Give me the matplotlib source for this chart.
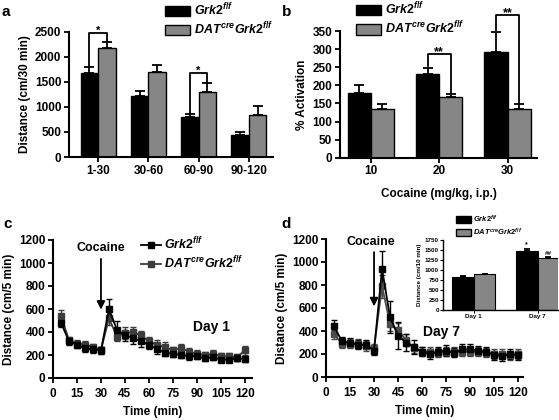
import matplotlib
matplotlib.use("Agg")
import matplotlib.pyplot as plt
import numpy as np
from matplotlib.patches import Patch
from matplotlib.lines import Line2D

plt.rcParams['font.family'] = ['Liberation Sans', 'DejaVu Sans']
plt.rcParams['font.weight'] = 'bold'
plt.rcParams['mathtext.fontset'] = 'custom'
plt.rcParams['mathtext.it'] = 'Liberation Sans:italic:bold'
plt.rcParams['mathtext.rm'] = 'Liberation Sans:bold'
plt.rcParams['mathtext.bf'] = 'Liberation Sans:bold'
plt.rcParams['axes.linewidth'] = 1.5
plt.rcParams['xtick.major.width'] = 1.3
plt.rcParams['ytick.major.width'] = 1.3

GRAY = '#868686'
LBL_WT = r'$\mathit{Grk2}^{\mathit{f/f}}$'
LBL_KO = r'$\mathit{DAT}^{\mathit{cre}}\mathit{Grk2}^{\mathit{f/f}}$'

# panel a
a_bins = ['1-30', '30-60', '60-90', '90-120']
a_wt = [1670, 1220, 790, 430]
a_wt_err = [120, 90, 70, 70]
a_ko = [2170, 1700, 1300, 830]
a_ko_err = [120, 140, 180, 180]

# panel b
b_dose = ['10', '20', '30']
b_wt = [180, 232, 293]
b_wt_err = [20, 16, 55]
b_ko = [135, 168, 135]
b_ko_err = [12, 9, 12]

# panels c, d
t = [5, 10, 15, 20, 25, 30, 35, 40, 45, 50, 55, 60, 65, 70, 75, 80, 85, 90,
     95, 100, 105, 110, 115, 120]
c_wt = [480, 320, 290, 260, 250, 240, 600, 420, 370, 350, 320, 290, 250, 220,
        210, 200, 190, 190, 170, 180, 160, 160, 170, 165]
c_wt_err = [40, 30, 30, 30, 30, 30, 90, 80, 50, 50, 50, 40, 40, 30,
            30, 30, 30, 25, 25, 25, 25, 25, 25, 30]
c_ko = [540, 330, 300, 290, 270, 240, 520, 360, 390, 400, 370, 320, 290, 270,
        240, 260, 230, 210, 200, 210, 190, 190, 180, 240]
c_ko_err = [50, 30, 30, 30, 30, 30, 60, 40, 50, 40, 40, 40, 40, 40,
            30, 40, 30, 30, 30, 30, 30, 30, 30, 40]

d_wt = [440, 310, 300, 280, 280, 230, 940, 520, 360, 300, 260, 220, 200, 220,
        230, 210, 240, 240, 230, 220, 190, 180, 200, 190]
d_wt_err = [60, 40, 40, 40, 40, 40, 160, 140, 120, 70, 60, 40, 40, 40,
            50, 40, 50, 50, 40, 40, 40, 40, 40, 40]
d_ko = [370, 290, 290, 290, 270, 250, 790, 460, 410, 320, 250, 220, 220, 210,
        220, 220, 220, 220, 220, 210, 200, 200, 190, 200]
d_ko_err = [40, 40, 40, 40, 40, 40, 100, 60, 60, 50, 40, 40, 40, 40,
            40, 40, 40, 40, 40, 40, 40, 40, 40, 40]

# inset
in_days = ['Day 1', 'Day 7']
in_wt = [840, 1490]
in_wt_err = [20, 50]
in_ko = [900, 1310]
in_ko_err = [15, 25]

fig = plt.figure(figsize=(5.59, 4.2), dpi=100)
W, H = 559, 420


def px_axes(l, r, top, bot):
    return fig.add_axes([l / W, 1 - bot / H, (r - l) / W, (bot - top) / H])


def style(ax, fs=8):
    for s in ['top', 'right']:
        ax.spines[s].set_visible(False)
    ax.tick_params(direction='out', length=3.5, labelsize=fs, pad=2)
    for lab in ax.get_xticklabels() + ax.get_yticklabels():
        lab.set_fontweight('bold')


def bars(ax, wt, wt_err, ko, ko_err, w, lw=1.0, cap=3.5):
    x = np.arange(len(wt))
    ax.bar(x - w / 2, wt, w, color='black', edgecolor='black', lw=lw,
           yerr=[np.zeros(len(wt)), wt_err],
           error_kw=dict(ecolor='black', capsize=cap, elinewidth=1.3, capthick=1.3))
    ax.bar(x + w / 2, ko, w, color=GRAY, edgecolor='black', lw=lw,
           yerr=[np.zeros(len(ko)), ko_err],
           error_kw=dict(ecolor='black', capsize=cap, elinewidth=1.3, capthick=1.3))
    return x


def bracket(ax, x0, x1, y0, y1, top, txt, fs=9):
    ax.plot([x0, x0, x1, x1], [y0, top, top, y1], color='black', lw=1.3,
            clip_on=False)
    ax.annotate(txt, ((x0 + x1) / 2, top), xytext=(0, -0.5),
                textcoords='offset points', ha='center', va='baseline',
                fontsize=fs, fontweight='bold', annotation_clip=False)


def bar_legend(ax, x0, y0, fs, hl, hh):
    ax.legend([Patch(fc='black', ec='black'), Patch(fc=GRAY, ec='black')],
              [LBL_WT, LBL_KO], loc='lower left', bbox_to_anchor=(x0, y0),
              frameon=False, fontsize=fs, handlelength=hl, handleheight=hh,
              handletextpad=0.3, labelspacing=0.2, borderaxespad=0, borderpad=0)


# ---- a
axa = px_axes(69, 273, 31.7, 157)
w = 0.35
x = bars(axa, a_wt, a_wt_err, a_ko, a_ko_err, w)
axa.set_xlim(-0.58, 3.48)
axa.set_ylim(0, 2500)
axa.set_yticks(range(0, 2501, 500))
axa.set_xticks(x)
axa.set_xticklabels(a_bins)
axa.set_ylabel('Distance (cm/30 min)', fontsize=8.5, fontweight='bold', labelpad=3)
style(axa, 8.5)
bracket(axa, -w / 2, w / 2, 1820, 2310, 2474, '*', 8)
bracket(axa, 2 - w / 2, 2 + w / 2, 870, 1490, 1670, '*', 8)
bar_legend(axa, 0.47, 0.955, 9, 2.0, 0.9)

# ---- b
axb = px_axes(340, 537, 31, 157.7)
w = 0.34
x = bars(axb, b_wt, b_wt_err, b_ko, b_ko_err, w)
axb.set_xlim(-0.45, 2.43)
axb.set_ylim(0, 350)
axb.set_yticks(range(0, 351, 50))
axb.set_xticks(x)
axb.set_xticklabels(b_dose)
axb.set_ylabel('% Activation', fontsize=8.5, fontweight='bold', labelpad=3)
axb.set_xlabel('Cocaine (mg/kg, i.p.)', fontsize=8.5, fontweight='bold', labelpad=8)
style(axb, 8.5)
bracket(axb, 1 - w / 2, 1 + w / 2, 252, 180, 286, '**', 9)
bracket(axb, 2 - w / 2, 2 + w / 2, 352, 150, 394, '**', 9)
bar_legend(axb, 0.08, 0.955, 9, 2.0, 0.9)


# ---- c, d
def timecourse(ax, wt, wt_err, ko, ko_err, ko_col):
    ax.errorbar(t, ko, yerr=ko_err, color=ko_col, marker='s', ms=4.5, lw=1.3,
                capsize=2.5, elinewidth=1.0, capthick=1.0)
    ax.errorbar(t, wt, yerr=wt_err, color='black', marker='s', ms=4.5, lw=1.3,
                capsize=2.5, elinewidth=1.0, capthick=1.0)
    ax.set_ylim(0, 1200)
    ax.set_yticks(range(0, 1201, 200))
    ax.set_xticks(range(0, 121, 15))
    ax.set_xlabel('Time (min)', fontsize=8.5, fontweight='bold', labelpad=4)
    ax.set_ylabel('Distance (cm/5 min)', fontsize=8.5, fontweight='bold', labelpad=3)
    style(ax, 8.5)
    ax.tick_params(axis='x', pad=4)


axc = px_axes(53, 252, 240, 378)
timecourse(axc, c_wt, c_wt_err, c_ko, c_ko_err, '#3c3c3c')
axc.set_xlim(0, 124.5)
axc.annotate('', xy=(30, 570), xytext=(30, 1060),
             arrowprops=dict(arrowstyle='-|>', color='black', lw=1.3,
                             mutation_scale=12))
axc.text(30, 1080, 'Cocaine', ha='center', va='bottom', fontsize=9, fontweight='bold')
axc.text(99, 440, 'Day 1', ha='center', va='center', fontsize=10, fontweight='bold')
axc.legend([Line2D([], [], color='black', marker='s', ms=4, lw=1.3),
            Line2D([], [], color='#3c3c3c', marker='s', ms=4, lw=1.3)],
           [LBL_WT, LBL_KO], loc='upper left', bbox_to_anchor=(0.44, 1.03),
           frameon=False, fontsize=9, handlelength=1.6, handletextpad=0.3,
           labelspacing=0.2, borderaxespad=0, borderpad=0)

axd = px_axes(326, 523, 239, 377)
timecourse(axd, d_wt, d_wt_err, d_ko, d_ko_err, '#4a4a4a')
axd.set_xlim(0, 123)
axd.annotate('', xy=(30, 590), xytext=(30, 1110),
             arrowprops=dict(arrowstyle='-|>', color='black', lw=1.3,
                             mutation_scale=12))
axd.text(28, 1120, 'Cocaine', ha='center', va='bottom', fontsize=9, fontweight='bold')
axd.text(72, 390, 'Day 7', ha='center', va='center', fontsize=10, fontweight='bold')

# ---- inset
axi = px_axes(443, 558, 240.3, 310)
w = 0.34
x = bars(axi, in_wt, in_wt_err, in_ko, in_ko_err, w, lw=0.8, cap=2)
axi.set_xlim(-0.48, 1.32)
axi.set_ylim(0, 1750)
axi.set_yticks(range(0, 1751, 250))
axi.set_xticks(x)
axi.set_xticklabels(in_days)
axi.set_ylabel('Distance (cm/10 min)', fontsize=4.5, fontweight='bold', labelpad=2)
style(axi, 4.5)
axi.spines['left'].set_linewidth(1.0)
axi.spines['bottom'].set_linewidth(1.0)
axi.tick_params(length=2, width=0.8, pad=1)
axi.text(1 - w / 2, 1550, '*', ha='center', va='bottom', fontsize=5, fontweight='bold')
axi.text(1 + w / 2, 1345, '##', ha='center', va='bottom', fontsize=4.5, fontweight='bold')
bar_legend(axi, 0.11, 1.04, 5.5, 2.0, 0.9)

# panel letters
for lx, ly, s in [(2, 12, 'a'), (282, 12, 'b'), (3, 224, 'c'), (281, 224, 'd')]:
    fig.text(lx / W, 1 - ly / H, s, fontsize=11, fontweight='bold', va='center')

fig.savefig('out.png', dpi=100)
